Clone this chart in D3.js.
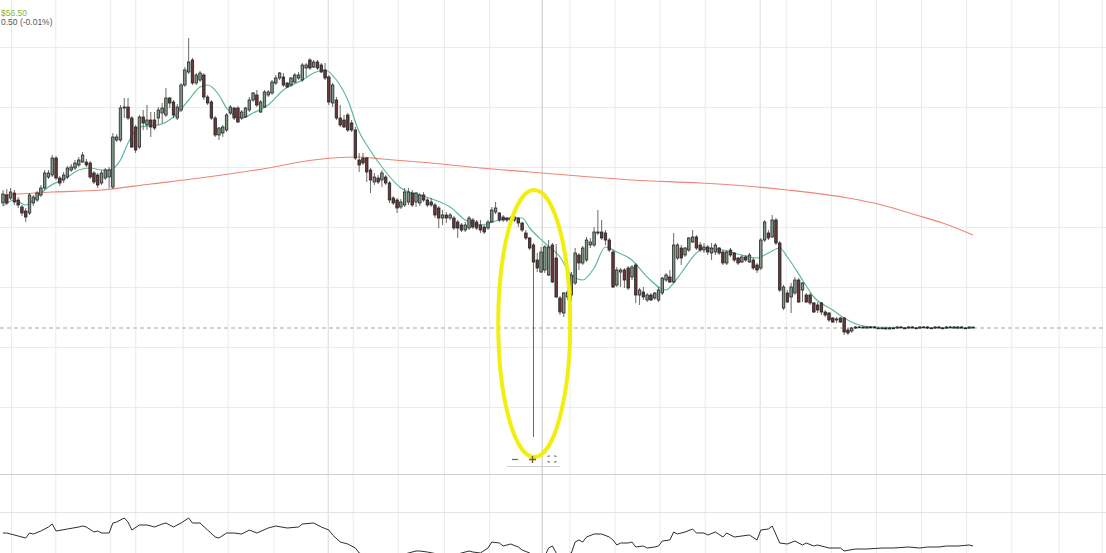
<!DOCTYPE html>
<html>
<head>
<meta charset="utf-8">
<script src="https://cdn.jsdelivr.net/npm/d3@7"></script>
<style>
  html, body { margin: 0; padding: 0; background: #fff; overflow: hidden; }
  svg { display: block; font-family: "Liberation Sans", Arial, sans-serif; }
</style>
</head>
<body>
<svg id="chart"></svg>
<script>
// candles, one per session, left to right
const opens = [
  69.0, 69.8, 69.5, 70.0, 69.3, 68.6, 68.2, 68.0, 69.0, 69.3,
  69.8, 70.5, 71.6, 71.8, 73.5, 71.5, 71.3, 71.6, 72.3, 72.5,
  72.8, 73.1, 73.1, 73.0, 72.0, 71.8, 71.0, 71.5, 71.6, 70.6,
  75.3, 75.3, 78.5, 78.6, 77.5, 76.6, 74.6, 77.6, 76.8, 77.3,
  77.3, 77.5, 78.0, 77.8, 79.5, 79.1, 77.5, 78.3, 80.8, 82.1,
  83.3, 81.0, 81.3, 81.8, 79.6, 79.1, 77.5, 75.8, 76.0, 76.3,
  78.0, 78.5, 78.5, 77.5, 77.6, 78.3, 79.3, 79.8, 78.1, 78.6,
  79.8, 80.0, 81.0, 81.5, 81.6, 81.0, 80.8, 81.1, 81.5, 81.3,
  82.5, 83.3, 82.6, 83.1, 82.8, 82.3, 81.6, 79.0, 79.3, 77.5,
  77.3, 77.8, 77.0, 76.3, 73.3, 73.5, 73.5, 72.3, 71.1, 71.5,
  71.3, 71.6, 71.0, 69.5, 69.3, 68.6, 68.8, 69.1, 70.0, 69.1,
  69.0, 69.8, 69.3, 69.1, 68.8, 68.5, 67.5, 67.8, 67.5, 67.5,
  67.1, 66.8, 66.3, 66.5, 67.3, 67.1, 66.8, 66.6, 66.5, 67.1,
  68.1, 68.0, 67.6, 67.5, 67.3, 67.3, 67.5, 67.0, 66.0, 65.5,
  64.8, 63.3, 62.1, 62.3, 61.8, 64.8, 63.5, 59.5, 58.0, 59.6,
  59.8, 61.0, 63.8, 63.0, 63.3, 64.8, 64.8, 66.0, 66.1, 66.0,
  65.3, 64.1, 60.8, 62.1, 62.3, 62.5, 61.6, 62.8, 59.8, 60.1,
  59.3, 59.8, 59.5, 59.3, 60.0, 61.3, 61.6, 61.1, 63.5, 64.5,
  63.8, 64.3, 65.1, 65.6, 64.8, 64.3, 64.6, 64.0, 64.1, 64.5,
  64.1, 63.0, 64.3, 64.0, 63.5, 63.1, 63.6, 63.1, 63.3, 62.8,
  62.5, 65.3, 66.0, 65.6, 67.3, 65.0, 58.5, 60.0, 59.6, 60.0,
  61.3, 60.3, 59.8, 59.8, 59.0, 58.8, 59.0, 58.1, 58.0, 57.5,
  57.3, 57.5, 57.5, 56.3, 56.2, 56.5, 56.6, 56.6, 56.5, 56.6,
  56.6, 56.5, 56.5, 56.5, 56.4, 56.5, 56.5, 56.6, 56.5, 56.5,
  56.6, 56.5, 56.5, 56.6, 56.6, 56.5, 56.5, 56.6, 56.5, 56.5,
  56.6, 56.6, 56.5, 56.6, 56.5, 56.5, 56.6
];
const highs = [
  70.3, 70.4, 70.5, 70.3, 69.6, 68.8, 68.5, 70.0, 69.8, 70.2,
  70.8, 72.3, 72.3, 73.8, 73.7, 71.7, 72.1, 72.7, 72.9, 73.3,
  73.6, 74.1, 73.4, 73.2, 72.2, 72.0, 72.3, 72.5, 72.6, 76.0,
  75.9, 78.8, 79.5, 79.5, 77.7, 76.8, 77.8, 78.3, 78.8, 78.1,
  78.1, 78.6, 79.0, 80.5, 79.6, 79.3, 78.9, 81.0, 82.6, 85.5,
  83.5, 82.0, 82.2, 82.0, 79.8, 79.3, 77.7, 76.6, 76.8, 78.0,
  78.8, 78.6, 78.7, 78.3, 78.6, 79.6, 80.1, 80.3, 79.3, 80.3,
  80.3, 81.3, 81.8, 82.1, 82.0, 81.1, 81.6, 82.0, 82.1, 83.0,
  83.0, 83.5, 83.3, 83.3, 83.0, 83.0, 81.8, 81.0, 79.6, 78.8,
  77.8, 78.0, 77.3, 76.6, 74.0, 74.0, 73.6, 72.5, 72.0, 71.8,
  72.3, 71.8, 71.2, 69.7, 69.5, 69.4, 70.5, 70.5, 70.3, 70.1,
  70.0, 70.1, 69.5, 69.5, 69.0, 68.7, 68.3, 68.1, 68.0, 67.7,
  67.3, 67.0, 67.1, 67.7, 67.5, 67.3, 67.3, 66.8, 67.3, 68.6,
  69.1, 68.1, 67.8, 67.6, 67.7, 67.8, 67.6, 67.1, 66.3, 65.6,
  65.0, 64.0, 64.6, 64.8, 65.3, 65.0, 64.9, 59.7, 60.1, 60.3,
  62.1, 64.5, 64.0, 64.7, 65.6, 65.5, 66.6, 68.3, 67.3, 66.3,
  65.5, 64.3, 62.6, 62.5, 62.5, 62.7, 62.8, 63.0, 60.5, 60.6,
  60.0, 60.0, 60.1, 60.6, 61.6, 62.0, 62.3, 66.0, 65.0, 64.8,
  64.6, 65.6, 66.3, 65.8, 65.1, 65.0, 64.8, 65.0, 65.0, 64.6,
  64.3, 64.3, 64.5, 64.1, 63.6, 63.8, 63.8, 64.0, 63.5, 63.0,
  65.5, 67.3, 66.3, 67.8, 67.5, 65.2, 60.8, 60.3, 61.0, 61.6,
  61.5, 61.1, 60.0, 60.0, 59.1, 59.1, 59.1, 58.3, 58.1, 57.6,
  57.6, 57.6, 57.6, 56.5, 56.6, 56.7, 56.7, 56.7, 56.7, 56.7,
  56.7, 56.6, 56.6, 56.6, 56.6, 56.6, 56.7, 56.7, 56.6, 56.7,
  56.7, 56.6, 56.7, 56.7, 56.7, 56.6, 56.7, 56.7, 56.6, 56.7,
  56.7, 56.7, 56.7, 56.7, 56.6, 56.7, 56.6
];
const lows = [
  68.7, 68.8, 69.3, 68.8, 68.5, 67.7, 67.1, 67.8, 68.7, 69.1,
  69.6, 70.3, 71.4, 71.6, 71.3, 70.7, 71.0, 71.4, 72.1, 72.3,
  72.6, 73.0, 72.6, 71.4, 70.9, 70.5, 70.8, 71.3, 70.5, 70.4,
  75.1, 75.1, 77.5, 77.3, 74.5, 74.0, 74.4, 76.3, 76.3, 75.6,
  76.3, 76.8, 77.0, 77.6, 78.5, 77.5, 77.3, 78.1, 80.6, 81.9,
  80.8, 80.8, 81.1, 79.3, 78.8, 77.3, 75.6, 75.3, 75.6, 76.1,
  77.8, 77.3, 77.0, 77.3, 77.5, 78.1, 79.1, 78.6, 78.0, 78.5,
  79.6, 79.8, 80.8, 81.3, 80.6, 80.5, 80.6, 81.0, 81.3, 81.1,
  81.6, 82.3, 82.5, 82.3, 82.0, 81.3, 78.8, 78.6, 77.3, 76.6,
  76.5, 76.1, 76.1, 73.3, 72.1, 72.8, 71.1, 70.0, 70.8, 70.9,
  70.6, 70.8, 69.0, 68.8, 68.0, 68.4, 68.6, 68.8, 68.6, 68.6,
  68.7, 69.1, 68.6, 68.6, 67.5, 66.5, 66.8, 67.0, 67.3, 66.3,
  65.5, 66.1, 66.1, 66.3, 66.4, 66.3, 66.0, 65.9, 66.3, 67.0,
  67.9, 67.1, 67.1, 67.1, 67.2, 67.1, 66.6, 66.1, 65.3, 64.3,
  45.6, 62.1, 62.0, 62.0, 61.7, 61.0, 59.5, 57.8, 57.6, 59.3,
  59.1, 60.8, 62.3, 62.8, 63.1, 64.5, 64.6, 65.8, 65.3, 64.8,
  64.1, 60.5, 60.6, 60.6, 60.5, 60.3, 61.3, 59.0, 58.8, 59.3,
  59.1, 59.2, 59.3, 59.1, 59.8, 61.1, 61.0, 61.0, 63.3, 62.8,
  63.6, 64.1, 65.0, 64.3, 64.1, 64.0, 63.8, 63.3, 63.8, 63.8,
  62.8, 62.8, 63.6, 63.1, 62.8, 63.0, 63.1, 63.0, 62.3, 62.0,
  62.3, 65.1, 65.3, 65.5, 64.8, 60.1, 58.3, 59.0, 58.0, 59.8,
  59.0, 59.1, 59.0, 58.8, 58.0, 58.0, 57.8, 57.6, 57.1, 57.0,
  57.0, 57.0, 55.8, 55.8, 56.0, 56.4, 56.5, 56.5, 56.4, 56.5,
  56.5, 56.4, 56.4, 56.4, 56.4, 56.4, 56.4, 56.5, 56.4, 56.4,
  56.5, 56.4, 56.4, 56.5, 56.4, 56.4, 56.4, 56.5, 56.4, 56.4,
  56.5, 56.5, 56.4, 56.5, 56.4, 56.4, 56.5
];
const closes = [
  69.9, 69.0, 70.1, 69.1, 68.8, 68.0, 67.6, 69.8, 69.6, 70.0,
  70.5, 72.0, 72.0, 73.5, 71.5, 71.0, 71.8, 72.5, 72.6, 73.0,
  73.3, 73.8, 72.8, 71.6, 71.1, 70.8, 72.0, 72.3, 72.3, 75.6,
  75.6, 78.5, 78.6, 77.5, 74.6, 74.3, 77.6, 77.0, 77.3, 76.6,
  76.5, 78.3, 78.5, 79.5, 79.0, 77.8, 78.6, 80.8, 82.3, 83.1,
  81.0, 81.8, 82.0, 79.6, 79.0, 77.5, 75.8, 76.5, 76.6, 77.8,
  78.6, 77.5, 77.1, 78.1, 78.5, 79.3, 80.0, 78.8, 79.1, 80.1,
  80.1, 81.1, 81.5, 82.0, 80.8, 80.6, 81.5, 81.8, 81.8, 82.8,
  82.8, 82.5, 83.1, 82.5, 82.1, 81.5, 79.1, 80.8, 77.5, 76.8,
  76.6, 76.3, 76.3, 73.5, 72.8, 73.0, 72.1, 71.3, 71.6, 71.1,
  72.0, 71.0, 69.3, 69.0, 68.5, 69.1, 70.1, 70.1, 68.8, 70.0,
  69.8, 69.3, 68.8, 68.8, 67.8, 67.5, 67.8, 67.5, 67.8, 66.5,
  66.5, 66.3, 66.8, 67.5, 66.6, 66.5, 66.3, 66.1, 67.1, 68.3,
  68.5, 67.3, 67.3, 67.3, 67.5, 67.6, 67.0, 66.3, 65.5, 64.5,
  63.1, 62.5, 64.1, 64.6, 64.6, 61.1, 59.6, 58.1, 60.0, 60.1,
  61.8, 64.0, 63.0, 64.5, 65.3, 65.1, 66.1, 66.1, 65.5, 65.3,
  64.3, 60.6, 62.3, 62.3, 61.3, 60.5, 62.6, 59.8, 60.3, 59.6,
  59.8, 59.3, 60.0, 60.3, 61.5, 61.8, 61.1, 64.8, 64.8, 63.5,
  64.5, 65.5, 65.6, 64.5, 64.3, 64.6, 64.1, 64.5, 64.8, 64.0,
  63.0, 64.1, 63.8, 63.3, 63.0, 63.6, 63.3, 63.8, 62.5, 62.3,
  65.3, 67.1, 65.5, 67.3, 65.0, 60.3, 60.6, 59.1, 60.6, 61.3,
  59.1, 61.0, 59.1, 59.0, 58.1, 58.3, 58.1, 57.8, 57.3, 57.1,
  57.4, 57.1, 56.1, 56.0, 56.5, 56.6, 56.6, 56.5, 56.6, 56.6,
  56.5, 56.5, 56.5, 56.4, 56.5, 56.5, 56.6, 56.5, 56.5, 56.6,
  56.5, 56.5, 56.6, 56.6, 56.5, 56.5, 56.6, 56.5, 56.5, 56.6,
  56.6, 56.5, 56.6, 56.5, 56.5, 56.6, 56.5
];

// short moving average (teal), read at some sessions
const fastMaIdx = [
  0, 3, 6, 8, 12, 17, 20, 23, 26, 28,
  31, 33, 36, 41, 45, 49, 52, 54, 57, 59,
  63, 66, 70, 74, 79, 82, 85, 88, 91, 94,
  96, 100, 105, 110, 114, 118, 122, 126, 131, 134,
  137, 139, 143, 147, 150, 153, 156, 159, 162, 166,
  170, 175, 177, 179, 183, 185, 190, 195, 199, 202,
  205, 207, 211, 214, 219, 222, 226, 230, 256
];
const fastMaVal = [
  68.7, 69.3, 68.8, 69.3, 70.6, 71.6, 72.3, 72.5, 72.3, 72.3,
  73.3, 75.0, 76.6, 76.8, 77.6, 79.3, 80.6, 80.8, 79.8, 78.5,
  77.5, 78.0, 78.8, 80.3, 81.3, 82.0, 82.3, 81.3, 79.3, 76.1,
  74.8, 72.6, 70.5, 69.8, 69.3, 68.6, 67.3, 66.8, 67.3, 67.5,
  67.5, 66.5, 65.0, 63.6, 61.8, 61.3, 62.5, 64.6, 64.1, 63.3,
  61.6, 60.3, 61.0, 62.0, 64.0, 64.5, 64.3, 63.8, 63.5, 64.0,
  64.5, 63.6, 61.3, 59.6, 58.3, 57.5, 56.8, 56.6, 56.5
];

// long moving average (red)
const slowMaIdx = [0, 13, 26, 39, 52, 70, 80, 87, 94, 100, 113, 126, 139, 152, 166, 184, 196, 207, 223, 232, 241, 248, 256];
const slowMaVal = [69.8, 70.1, 70.3, 70.9, 71.5, 72.5, 73.2, 73.5, 73.6, 73.4, 73.0, 72.5, 72.1, 71.7, 71.3, 71.0, 70.7, 70.3, 69.5, 68.8, 67.8, 67.0, 65.8];

// lower pane oscillator (0-100)
const oscIdx = [
  0, 1, 4, 6, 7, 8, 10, 12, 13, 14,
  17, 20, 21, 22, 24, 25, 26, 28, 29, 30,
  32, 33, 34, 36, 38, 40, 42, 43, 45, 47,
  49, 50, 52, 54, 56, 57, 59, 61, 63, 65,
  67, 70, 72, 75, 78, 79, 82, 84, 86, 87,
  89, 91, 93, 94, 97, 101, 105, 108, 109, 110,
  112, 116, 120, 123, 124, 126, 128, 129, 131, 132,
  134, 136, 137, 139, 141, 143, 144, 145, 146, 147,
  149, 150, 151, 152, 153, 154, 156, 158, 160, 161,
  162, 163, 165, 166, 167, 169, 170, 172, 173, 174,
  176, 177, 178, 180, 182, 183, 185, 186, 188, 190,
  191, 193, 195, 197, 199, 200, 202, 203, 205, 207,
  209, 211, 212, 214, 215, 218, 221, 222, 225, 228,
  232, 235, 239, 242, 244, 247, 249, 252, 255, 256
];
const oscVal = [
  29, 29, 26, 24, 29, 28, 31, 35, 38, 31,
  33, 35, 36, 35, 30, 31, 29, 29, 39, 40,
  44, 40, 32, 37, 37, 35, 38, 39, 35, 39,
  44, 39, 39, 32, 25, 24, 29, 29, 28, 32,
  29, 34, 36, 34, 35, 38, 39, 35, 32, 27,
  20, 18, 14, 9, 5, 6, 7, 10, 11, 11,
  10, 7, 8, 11, 10, 9, 14, 20, 19, 16,
  18, 15, 12, 9, 4, 6, 14, 16, 9, 4,
  8, 9, 20, 22, 20, 25, 28, 28, 25, 22,
  17, 19, 19, 20, 15, 16, 14, 15, 16, 21,
  22, 30, 28, 30, 33, 29, 29, 27, 30, 25,
  29, 25, 26, 27, 22, 32, 33, 36, 19, 18,
  21, 17, 19, 16, 17, 14, 14, 11, 13, 13,
  14, 14, 15, 14, 15, 15, 16, 16, 17, 16
];

// grid levels (price) and time grid (session positions)
const priceGrid = [84.6, 78.6, 72.6, 66.6, 60.6, 54.6, 48.6];
const oscGrid = [50];
const timeGrid = [2.1, 13.8, 28.3, 34.9, 47.4, 59.3, 71.4, 92.3, 104.2, 116.4, 128.3, 149.5, 161.4, 173.3, 185.2, 206.6, 218.5, 230.4, 242.3, 254.2, 266.1, 278.6, 290];
const timeGridMajor = [85.7, 199.7];
const crosshairIdx = 142.3;
const lastPrice = 56.5;
const headerPrice = "$56.50";
const headerChange = "0.50 (-0.01%)";
// hand-drawn highlight around the spike (session, price, half sizes)
const highlight = { idx: 140.2, price: 56.95, halfIdx: 9.5, halfPrice: 13.35 };

const W = 1106, H = 553;
const mainBottom = 473, oscTop = 474;

const svg = d3.select("#chart").attr("width", W).attr("height", H);
svg.append("rect").attr("width", W).attr("height", H).attr("fill", "#fff");

const x = d3.scaleLinear().domain([0, 256]).range([3, 973]);
const y = d3.scaleLinear().domain([42, 89.3]).range([mainBottom, 0]);
const yOsc = d3.scaleLinear().domain([0, 100]).range([562, 462]);

svg.append("defs").call(d => {
  d.append("clipPath").attr("id", "mainClip").append("rect").attr("width", W).attr("height", mainBottom);
  d.append("clipPath").attr("id", "oscClip").append("rect").attr("y", oscTop).attr("width", W).attr("height", H - oscTop);
});

// vertical grid through both panes
svg.append("g")
  .call(d3.axisBottom(x).tickValues(timeGrid).tickSize(H).tickFormat(""))
  .call(g => g.select(".domain").remove())
  .call(g => g.selectAll("line").attr("stroke", "#ebebeb"));
svg.append("g")
  .call(d3.axisBottom(x).tickValues(timeGridMajor).tickSize(H).tickFormat(""))
  .call(g => g.select(".domain").remove())
  .call(g => g.selectAll("line").attr("stroke", "#dadada"));

// horizontal grid
svg.append("g")
  .call(d3.axisRight(y).tickValues(priceGrid).tickSize(W).tickFormat(""))
  .call(g => g.select(".domain").remove())
  .call(g => g.selectAll("line").attr("stroke", "#ebebeb"));
svg.append("g")
  .call(d3.axisRight(yOsc).tickValues(oscGrid).tickSize(W).tickFormat(""))
  .call(g => g.select(".domain").remove())
  .call(g => g.selectAll("line").attr("stroke", "#e4e4e4"));

// pane separator
svg.append("line").attr("x1", 0).attr("x2", W).attr("y1", oscTop + 0.5).attr("y2", oscTop + 0.5)
  .attr("stroke", "#cfcfcf");

// crosshair
svg.append("line").attr("x1", x(crosshairIdx)).attr("x2", x(crosshairIdx)).attr("y1", 0).attr("y2", H)
  .attr("stroke", "#c4c4c4");

const main = svg.append("g").attr("clip-path", "url(#mainClip)");

// last price line
main.append("line").attr("x1", 0).attr("x2", W).attr("y1", y(lastPrice)).attr("y2", y(lastPrice))
  .attr("stroke", "#a8a8a8").attr("stroke-dasharray", "4,3");

// moving averages
const slowLine = d3.line().x((d, i) => x(slowMaIdx[i])).y(d => y(d)).curve(d3.curveMonotoneX);
main.append("path").datum(slowMaVal).attr("d", slowLine)
  .attr("fill", "none").attr("stroke", "#ee8676").attr("stroke-width", 1.2);

const fastLine = d3.line().x((d, i) => x(fastMaIdx[i])).y(d => y(d)).curve(d3.curveMonotoneX);
main.append("path").datum(fastMaVal).attr("d", fastLine)
  .attr("fill", "none").attr("stroke", "#5fb89e").attr("stroke-width", 1.2);

// candles
const bw = (x(1) - x(0)) * 0.66;
const candles = main.append("g").selectAll("g").data(d3.range(opens.length)).join("g");
candles.append("line")
  .attr("x1", i => x(i)).attr("x2", i => x(i))
  .attr("y1", i => y(highs[i])).attr("y2", i => y(lows[i]))
  .attr("stroke", "#444").attr("stroke-width", 0.8);
candles.append("rect")
  .attr("x", i => x(i) - bw / 2)
  .attr("width", bw)
  .attr("y", i => y(Math.max(opens[i], closes[i])))
  .attr("height", i => Math.max(Math.abs(y(opens[i]) - y(closes[i])), 0.8))
  .attr("fill", i => closes[i] >= opens[i] ? "#7f9786" : "#6a3838")
  .attr("stroke", "#1e1e1e").attr("stroke-width", 0.75);

// highlight ellipse
main.append("ellipse")
  .attr("cx", x(highlight.idx))
  .attr("cy", y(highlight.price))
  .attr("rx", x(highlight.idx + highlight.halfIdx) - x(highlight.idx))
  .attr("ry", y(highlight.price - highlight.halfPrice) - y(highlight.price))
  .attr("fill", "none").attr("stroke", "#f2ee10").attr("stroke-width", 4);

// oscillator
const osc = svg.append("g").attr("clip-path", "url(#oscClip)");
const oscLine = d3.line().x((d, i) => x(oscIdx[i])).y(d => yOsc(d));
osc.append("path").datum(oscVal).attr("d", oscLine)
  .attr("fill", "none").attr("stroke", "#2e2e2e").attr("stroke-width", 1);

// zoom controls
const zc = svg.append("g").attr("transform", "translate(533,459)");
zc.append("line").attr("x1", -26).attr("x2", 27).attr("y1", 7.5).attr("y2", 7.5).attr("stroke", "#d0d0d0");
zc.append("line").attr("x1", -21).attr("x2", -15).attr("y1", 0.5).attr("y2", 0.5).attr("stroke", "#666").attr("stroke-width", 1.2);
zc.append("path").attr("d", "M-0.5,-3V4M-4,0.5H3").attr("stroke", "#7a5a20").attr("stroke-width", 1.4).attr("fill", "none");
zc.append("path").attr("d", "M15,-2V-3H17M21,-3H23V-2M23,2V3H21M17,3H15V2")
  .attr("stroke", "#666").attr("stroke-width", 1).attr("fill", "none");

// header
svg.append("text").attr("x", 1).attr("y", 16).attr("font-size", 8.5).attr("fill", "#86b53c").text(headerPrice);
svg.append("text").attr("x", 1).attr("y", 25).attr("font-size", 8.5).attr("fill", "#555").text(headerChange);
</script>
</body>
</html>
